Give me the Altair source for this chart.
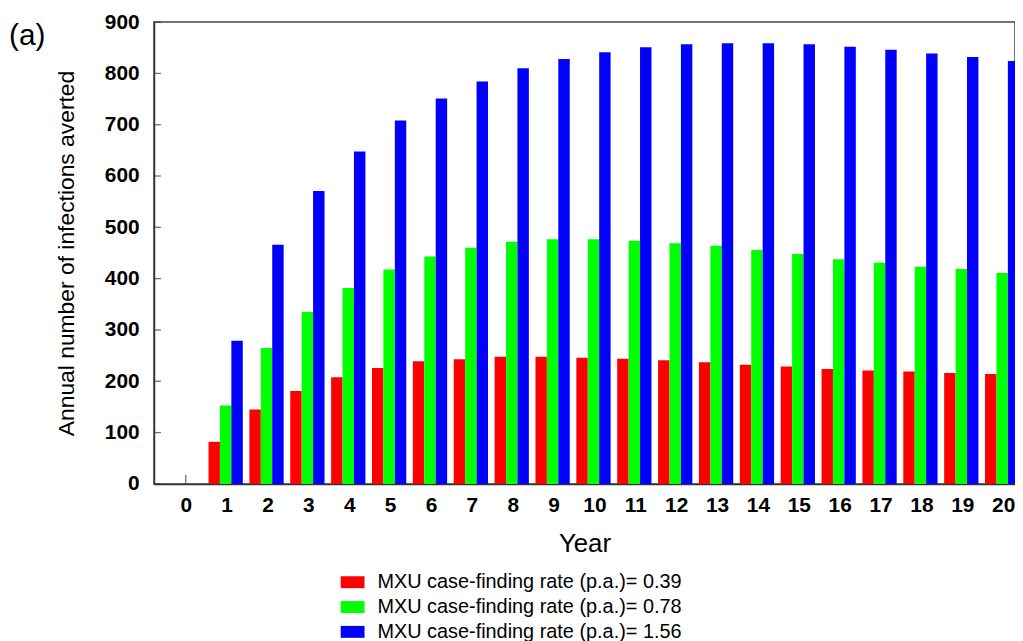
import altair as alt
import pandas as pd

years = list(range(0, 21))
rate_039 = [0, 82, 145, 181, 208, 226, 239, 243, 248, 248, 246, 244, 241, 237, 232, 229, 224, 221, 219, 216, 214]
rate_078 = [0, 153, 265, 335, 382, 418, 443, 460, 472, 477, 477, 474, 469, 464, 456, 448, 438, 431, 423, 419, 411]
rate_156 = [0, 279, 466, 571, 648, 708, 751, 784, 810, 828, 841, 851, 857, 859, 859, 857, 852, 846, 839, 832, 824]
series_names = [
    "MXU case-finding rate (p.a.)= 0.39",
    "MXU case-finding rate (p.a.)= 0.78",
    "MXU case-finding rate (p.a.)= 1.56",
]
series_colors = ["#ff0000", "#00ff00", "#0000ff"]
y_ticks = [0, 100, 200, 300, 400, 500, 600, 700, 800, 900]

rows = []
for idx, (name, vals) in enumerate(zip(series_names, [rate_039, rate_078, rate_156])):
    for yr, v in zip(years, vals):
        rows.append({"year": yr, "value": v, "series": name, "idx": idx})
df = pd.DataFrame(rows)

FONT = "Liberation Sans"
W, H = 867, 465
BAR_W = 11.5
STEP = 41.15  # px per year

xscale = alt.Scale(domain=[-0.778, 20.29], nice=False, zero=False, padding=0)
yscale = alt.Scale(domain=[0, 900], nice=False, padding=0)

base = alt.Chart(df)

bars = base.mark_bar(size=BAR_W, strokeWidth=0).transform_calculate(
    xpos=f"datum.year + (datum.idx - 1) * {BAR_W / STEP} - {1.0 / STEP}"
).encode(
    x=alt.X("xpos:Q", scale=xscale,
            axis=alt.Axis(values=years, format="d", title="Year", ticks=False,
                          labelFont=FONT, labelFontSize=21, labelFontWeight="bold",
                          labelColor="#000", labelPadding=11, grid=False,
                          domainColor="#333", domainWidth=1.5,
                          titleFont=FONT, titleFontSize=26, titleFontWeight="normal",
                          titleColor="#000", titleBaseline="middle", titleY=60)),
    y=alt.Y("value:Q", scale=yscale,
            axis=alt.Axis(values=y_ticks, title="Annual number of infections averted",
                          ticks=False, labelFont=FONT, labelFontSize=21,
                          labelFontWeight="bold", labelColor="#000", labelPadding=15,
                          grid=False, domainColor="#333", domainWidth=1.5,
                          titleFont=FONT, titleFontSize=23, titleFontWeight="normal",
                          titleColor="#000", titleBaseline="middle", titleX=-88)),
    color=alt.Color("series:N",
                    scale=alt.Scale(domain=series_names, range=series_colors),
                    sort=series_names,
                    legend=alt.Legend(title=None, orient="none", legendX=188, legendY=552,
                                      direction="vertical",
                                      symbolType="M-1,-0.5H1V0.5H-1Z", symbolSize=576,
                                      symbolStrokeWidth=0, symbolOpacity=1,
                                      labelFont=FONT, labelFontSize=20, labelColor="#000",
                                      labelLimit=0, labelOffset=13, rowPadding=3, padding=0)),
)

xtick_df = pd.DataFrame({"year": years})
xticks = alt.Chart(xtick_df).mark_tick(orient="vertical", size=9, thickness=1.3, color="#333").encode(
    x=alt.X("year:Q", scale=xscale),
    y=alt.value(H - 4.5),
)

ytick_df = pd.DataFrame({"v": y_ticks})
yticks = alt.Chart(ytick_df).mark_tick(orient="horizontal", size=7, thickness=1.3, color="#333").encode(
    y=alt.Y("v:Q", scale=yscale),
    x=alt.value(3.5),
)

panel_df = pd.DataFrame({"label": ["(a)"]})
panel = alt.Chart(panel_df).mark_text(font=FONT, fontSize=30, align="left", baseline="middle",
                                      color="#000").encode(
    text="label:N", x=alt.value(-146), y=alt.value(14)
)

chart = alt.layer(xticks, yticks, bars, panel).properties(
    width=W, height=H,
    autosize=alt.AutoSizeParams(type="none"),
    padding={"left": 147, "top": 12, "right": 0, "bottom": 156},
).configure_view(stroke="#444", strokeWidth=1.5)

chart.save("out.html", embed_options={"renderer": "svg", "actions": False})
